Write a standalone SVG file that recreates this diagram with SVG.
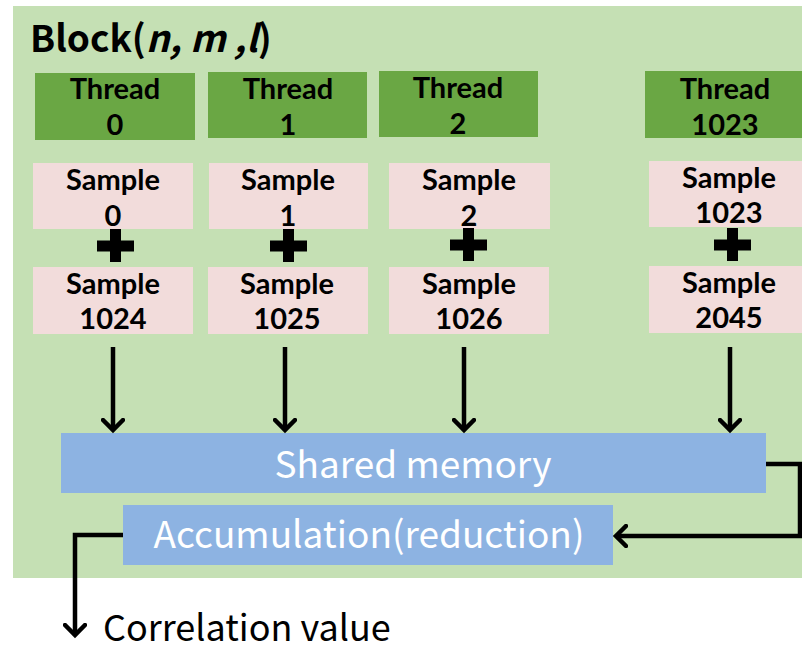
<svg xmlns="http://www.w3.org/2000/svg" width="802" height="651" viewBox="0 0 802 651">
<style>
.bg{fill:#C5E0B4}
.thr{fill:#6AA744}
.smp{fill:#F2DCDB}
.mem{fill:#8DB3E2}
.lbl{font-family:Lato,"Noto Sans",sans-serif;font-weight:bold;font-size:29px;fill:#000;text-anchor:middle}
.wt{font-family:"Noto Sans CJK KR","Noto Sans",sans-serif;font-size:37px;fill:#fff;text-anchor:middle}
.ln{fill:none;stroke:#000;stroke-width:4.5}
.plus{fill:#000}
</style>
<defs>
<marker id="ah" markerWidth="24" markerHeight="24" viewBox="-12 -12 24 24" refX="0" refY="0" orient="auto" markerUnits="userSpaceOnUse">
<path d="M-10,-10 L0,0 L-10,10" fill="none" stroke="#000" stroke-width="4.5" stroke-linecap="round" stroke-linejoin="miter"/>
</marker>
</defs>
<rect class="bg" x="13" y="6" width="800" height="572"/>
<g id="title"><text x="30" y="52" font-family="'Noto Sans CJK KR','Noto Sans',sans-serif" font-weight="bold" font-size="37">Block(<tspan font-style="italic">n, m ,l</tspan>)</text></g>
<g id="thread0"><rect class="thr" x="35" y="73" width="160" height="67"/><text class="lbl"><tspan x="115" y="99">Thread</tspan><tspan x="115" y="135">0</tspan></text></g>
<g id="thread1"><rect class="thr" x="208" y="72" width="159" height="66"/><text class="lbl"><tspan x="288" y="99">Thread</tspan><tspan x="288" y="135">1</tspan></text></g>
<g id="thread2"><rect class="thr" x="379" y="71" width="159" height="66"/><text class="lbl"><tspan x="458" y="98">Thread</tspan><tspan x="458" y="134">2</tspan></text></g>
<g id="thread1023"><rect class="thr" x="645" y="71" width="170" height="67"/><text class="lbl"><tspan x="725" y="99">Thread</tspan><tspan x="725" y="135">1023</tspan></text></g>
<g id="sample0"><rect class="smp" x="33" y="163" width="160" height="66"/><text class="lbl"><tspan x="113" y="190">Sample</tspan><tspan x="113" y="226">0</tspan></text></g>
<g id="sample1"><rect class="smp" x="209" y="163" width="159" height="66"/><text class="lbl"><tspan x="288" y="190">Sample</tspan><tspan x="288" y="226">1</tspan></text></g>
<g id="sample2"><rect class="smp" x="389" y="163" width="161" height="66"/><text class="lbl"><tspan x="469" y="190">Sample</tspan><tspan x="469" y="226">2</tspan></text></g>
<g id="sample1023"><rect class="smp" x="649" y="161" width="160" height="66"/><text class="lbl"><tspan x="729" y="188">Sample</tspan><tspan x="729" y="223">1023</tspan></text></g>
<g id="plus0"><path class="plus" d="M97,240.5h37v11h-37z M110,229h11v33h-11z"/></g>
<g id="plus1"><path class="plus" d="M270,240.5h37v11h-37z M283,229h11v33h-11z"/></g>
<g id="plus2"><path class="plus" d="M450,239.5h37v11h-37z M463,228h11v33h-11z"/></g>
<g id="plus1023"><path class="plus" d="M714,239.5h37v11h-37z M727,228h11v33h-11z"/></g>
<g id="sample1024"><rect class="smp" x="33" y="267" width="160" height="67"/><text class="lbl"><tspan x="113" y="294">Sample</tspan><tspan x="113" y="329">1024</tspan></text></g>
<g id="sample1025"><rect class="smp" x="208" y="267" width="160" height="67"/><text class="lbl"><tspan x="287" y="294">Sample</tspan><tspan x="287" y="329">1025</tspan></text></g>
<g id="sample1026"><rect class="smp" x="389" y="267" width="160" height="67"/><text class="lbl"><tspan x="469" y="294">Sample</tspan><tspan x="469" y="329">1026</tspan></text></g>
<g id="sample2045"><rect class="smp" x="649" y="266" width="160" height="67"/><text class="lbl"><tspan x="729" y="293">Sample</tspan><tspan x="729" y="328">2045</tspan></text></g>
<g id="shared"><rect class="mem" x="61" y="433" width="705" height="60"/><text class="wt" x="413" y="478">Shared memory</text></g>
<g id="accum"><rect class="mem" x="123" y="505" width="490" height="60"/><text class="wt" x="369" y="548">Accumulation(reduction)</text></g>
<g id="connectors">
<path class="ln" d="M113,347V430" marker-end="url(#ah)"/>
<path class="ln" d="M285,347V430" marker-end="url(#ah)"/>
<path class="ln" d="M464,347V430" marker-end="url(#ah)"/>
<path class="ln" d="M730,347V430" marker-end="url(#ah)"/>
<path class="ln" d="M766,464H800V536H616" marker-end="url(#ah)"/>
<path class="ln" d="M123,535H75V635" marker-end="url(#ah)"/>
</g>
<text x="103" y="641" font-family="'Noto Sans CJK KR','Noto Sans',sans-serif" font-size="36" fill="#000">Correlation value</text>
</svg>
